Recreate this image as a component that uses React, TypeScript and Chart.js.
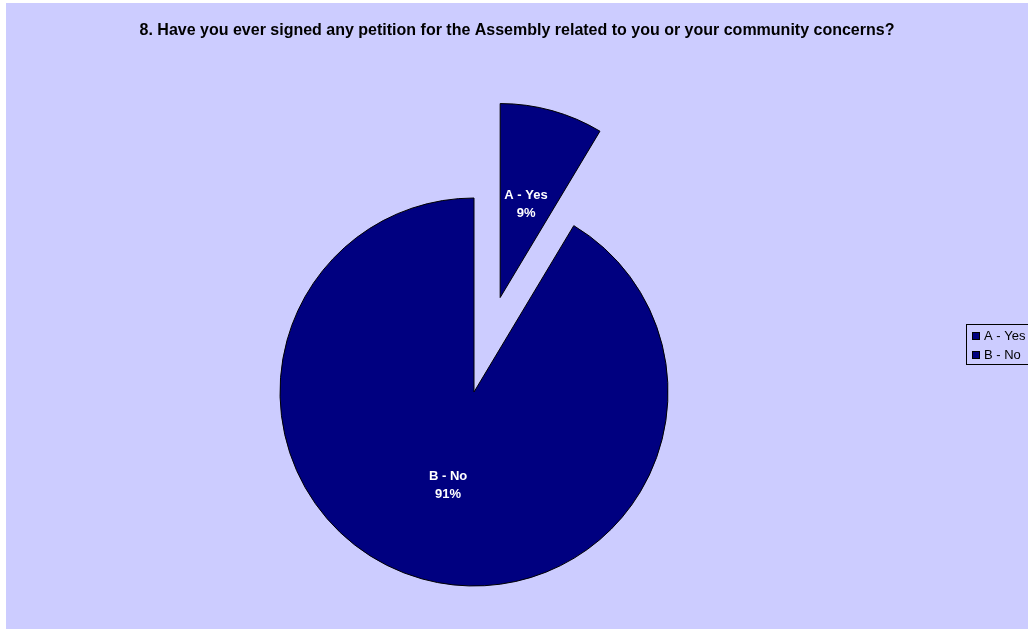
import React, { useEffect, useRef } from 'react';
import { Chart, registerables } from 'chart.js';

Chart.register(...registerables);

const TITLE = '8. Have you ever signed any petition for the Assembly related to you or your community concerns?';
const categories = ['A - Yes', 'B - No'];
const shares = [8.6, 91.4];
const shareLabels = ['9%', '91%'];

const BG = '#CCCCFF';
const NAVY = '#000080';
const EXPLODE = [98, 0];
const FONT = '"Liberation Sans", Arial, Helvetica, sans-serif';

export default function App() {
  const ref = useRef<HTMLCanvasElement>(null);

  useEffect(() => {
    const canvas = ref.current;
    if (!canvas) return;

    const plugin = {
      id: 'customDraw',
      beforeDraw(chart: any) {
        const ctx = chart.ctx;
        ctx.save();
        ctx.fillStyle = '#ffffff';
        ctx.fillRect(0, 0, 1028, 632);
        ctx.fillStyle = BG;
        ctx.fillRect(6, 3, 1022, 626);
        ctx.fillStyle = '#000';
        ctx.font = `bold 16px ${FONT}`;
        ctx.textAlign = 'center';
        ctx.textBaseline = 'middle';
        ctx.fillText(TITLE, 517, 31);
        ctx.restore();
      },
      beforeDatasetDraw(chart: any, args: any) {
        const ctx = chart.ctx;
        args.meta.data.forEach((arc: any, i: number) => {
          const off = EXPLODE[i] || 0;
          const mid = (arc.startAngle + arc.endAngle) / 2;
          ctx.save();
          ctx.translate(Math.cos(mid) * off, Math.sin(mid) * off);
          arc.draw(ctx);
          ctx.restore();
        });
        return false;
      },
      afterDatasetsDraw(chart: any) {
        const ctx = chart.ctx;
        const meta = chart.getDatasetMeta(0);
        ctx.save();
        ctx.fillStyle = '#ffffff';
        ctx.font = `bold 13px ${FONT}`;
        ctx.textAlign = 'center';
        ctx.textBaseline = 'middle';
        meta.data.forEach((arc: any, i: number) => {
          const off = EXPLODE[i] || 0;
          const mid = (arc.startAngle + arc.endAngle) / 2;
          const p = arc.getCenterPoint();
          const x = p.x + Math.cos(mid) * off;
          const y = p.y + Math.sin(mid) * off;
          ctx.fillText(categories[i], x, y - 9);
          ctx.fillText(shareLabels[i], x, y + 9);
        });
        ctx.restore();

        // legend
        ctx.save();
        ctx.fillStyle = BG;
        ctx.fillRect(966.5, 324.5, 80, 40);
        ctx.strokeStyle = '#000';
        ctx.lineWidth = 1;
        ctx.strokeRect(966.5, 324.5, 80, 40);
        ctx.font = `13px ${FONT}`;
        ctx.textAlign = 'left';
        ctx.textBaseline = 'middle';
        categories.forEach((c, i) => {
          const cy = 336 + i * 19;
          ctx.fillStyle = NAVY;
          ctx.fillRect(972.5, cy - 3.5, 7, 7);
          ctx.strokeStyle = '#000';
          ctx.strokeRect(972.5, cy - 3.5, 7, 7);
          ctx.fillStyle = '#000';
          ctx.fillText(c, 984, cy);
        });
        ctx.restore();
      },
    };

    const chart = new Chart(canvas, {
      type: 'pie',
      data: {
        labels: categories,
        datasets: [
          {
            data: shares,
            backgroundColor: NAVY,
            borderColor: '#000000',
            borderWidth: 1,
            borderJoinStyle: 'miter',
          } as any,
        ],
      },
      options: {
        responsive: false,
        animation: false,
        devicePixelRatio: 1,
        radius: 194,
        events: [],
        layout: { padding: { left: 0, right: 80, top: 152, bottom: 0 } },
        plugins: {
          legend: { display: false },
          tooltip: { enabled: false },
          title: { display: false },
        },
      } as any,
      plugins: [plugin],
    });

    return () => chart.destroy();
  }, []);

  return (
    <div style={{ position: 'absolute', left: 0, top: 0, width: 1028, height: 632 }}>
      <canvas ref={ref} width={1028} height={632} style={{ display: 'block', width: 1028, height: 632 }} />
    </div>
  );
}
